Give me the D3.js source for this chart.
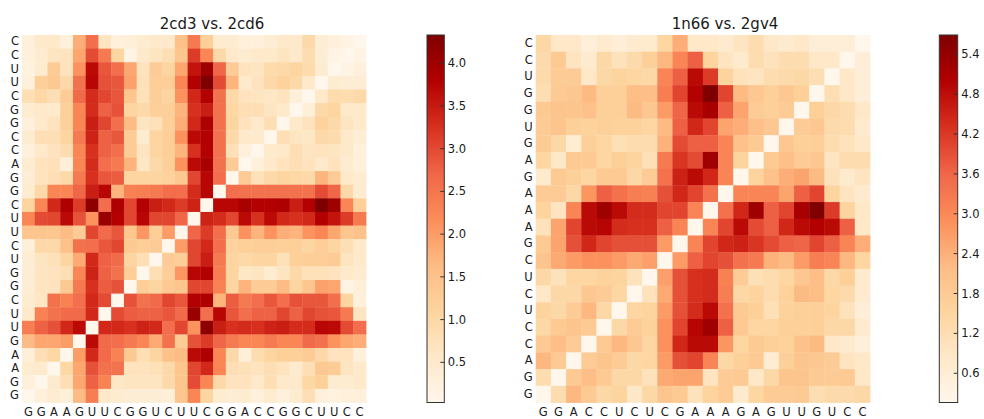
<!DOCTYPE html>
<html><head><meta charset="utf-8">
<script src="https://cdn.jsdelivr.net/npm/d3@7"></script>
<style>
html,body{margin:0;padding:0;background:#fff;}
svg{display:block;font-family:"DejaVu Sans",sans-serif;}
</style></head>
<body>
<svg id="chart" width="984" height="419"></svg>
<script>
// ---------- DATA ----------
const title1 = "2cd3 vs. 2cd6";
const xLabels1 = "GGAAGUUCGGUCUUCGGACCGGCUUCC".split("");
const yLabels1 = "CCUUCGGCCAGGCUUCUGGCUUGAAGG".split("");   // top -> bottom
// upper-left triangle by displayed row (top -> bottom); row r holds columns 0..(n-1-r), last = diagonal
const tri1 = [
[0.27,0.54,0.54,0.27,1.79,2.6,0.65,0.27,0.32,0.43,0.54,0.54,1.51,2.43,1.19,0.43,0.43,0.27,0.27,0.38,0.54,0.54,0.97,0.38,0.27,0.16,0.03],
[0.27,0.43,0.65,0.7,1.89,2.98,2.43,1.08,0.16,0.54,0.65,0.81,1.41,3.14,2.27,0.97,0.54,0.43,0.54,0.54,0.65,0.54,0.87,0.38,0.16,0.03],
[0.22,0.43,1.3,0.7,2.11,3.68,2.87,2.6,1.89,0.7,1.3,1.08,1.89,3.57,4.0,2.7,1.3,0.7,0.65,0.92,0.97,1.08,0.92,0.43,0.03],
[0.27,1.19,1.35,0.97,2.54,3.73,2.92,2.87,1.95,0.76,1.24,1.24,2.27,3.79,4.33,2.98,1.73,0.54,0.7,0.97,1.14,0.97,0.54,0.03],
[0.81,1.03,0.81,1.3,2.65,3.3,3.03,2.87,1.41,0.76,1.24,1.08,2.11,3.35,3.79,2.54,0.97,0.7,0.65,0.6,0.7,0.32,0.03],
[0.43,0.54,0.49,1.19,2.27,3.3,2.76,2.92,1.08,0.97,1.19,1.19,1.73,3.25,3.46,2.54,1.03,0.81,0.81,0.65,0.54,0.03],
[0.27,0.54,0.7,1.19,2.27,3.46,3.03,2.6,1.62,0.65,0.76,1.19,1.79,3.35,3.84,2.54,1.08,0.7,0.54,0.81,0.03],
[0.43,0.81,0.81,1.08,2.43,3.41,2.76,2.87,1.3,0.43,1.08,1.24,2.11,3.68,3.79,2.54,0.97,0.54,0.49,0.03],
[0.27,0.54,0.7,0.87,2.27,3.25,2.76,2.6,1.3,0.65,1.08,1.24,1.73,3.25,3.79,2.54,0.76,0.27,0.03],
[0.43,0.7,0.76,0.32,2.27,3.3,2.6,2.43,1.73,0.6,0.97,1.19,2.11,3.68,3.9,2.54,1.3,0.03],
[0.38,0.7,0.81,0.97,2.43,3.25,2.87,2.81,1.08,1.08,1.08,1.14,1.35,3.03,3.73,2.6,0.03],
[0.43,0.97,2.27,2.27,2.7,3.46,3.73,1.73,2.33,2.38,2.43,2.6,2.6,3.3,3.73,0.03],
[1.08,2.27,3.35,3.84,3.14,4.17,2.6,3.84,3.03,3.79,3.46,3.35,3.14,3.41,0.03],
[2.27,2.98,3.03,3.68,2.92,2.11,4.06,3.79,3.03,3.73,3.03,3.03,2.7,0.03],
[1.41,1.41,1.41,1.62,1.3,3.03,2.65,2.87,1.41,2.06,1.24,2.0,0.03],
[0.32,0.97,0.97,1.51,2.54,2.6,2.87,3.03,1.35,1.24,1.3,0.03],
[0.38,0.65,0.76,1.08,1.84,3.35,2.76,2.65,1.08,0.81,0.03],
[0.38,0.65,0.7,0.81,2.27,3.41,2.76,2.54,1.24,0.03],
[0.38,0.65,0.7,1.35,2.43,3.25,2.81,2.92,0.03],
[0.43,0.6,2.54,2.33,2.6,3.35,2.98,0.03],
[0.54,2.33,2.54,2.65,2.65,3.35,0.03],
[2.38,2.76,2.92,3.35,3.68,0.03],
[1.62,1.89,1.89,2.0,0.03],
[0.32,0.81,1.03,0.03],
[0.43,0.49,0.03],
[0.27,0.03],
[0.03]
];
const range1 = [0.03, 4.33];
const ticks1 = [0.5,1.0,1.5,2.0,2.5,3.0,3.5,4.0];

const title2 = "1n66 vs. 2gv4";
const xLabels2 = "GGACCUCUCGAAAGAGUUGUCC".split("");
const yLabels2 = "CCUGGUGAGAAAGCUCUCCAGG".split("");   // top -> bottom
const tri2 = [
[1.40,0.85,0.85,0.51,0.71,0.57,0.71,0.78,1.47,2.44,0.85,0.85,0.71,0.99,1.27,0.85,0.71,0.85,0.57,0.57,0.57,0.16],
[1.33,1.82,0.99,0.71,1.40,1.06,1.33,1.68,2.30,3.06,3.68,1.54,0.99,0.78,1.27,1.06,1.27,1.27,0.85,0.85,0.16],
[1.33,1.75,1.75,0.85,1.40,1.54,1.47,1.40,3.06,3.68,4.86,4.17,1.54,1.06,0.99,1.27,1.33,1.40,1.20,0.16],
[1.20,1.82,1.89,2.23,1.68,1.68,2.16,2.16,3.20,4.03,5.0,5.69,4.03,2.23,1.89,1.68,1.89,1.68,0.16],
[1.82,1.96,1.96,2.03,1.68,1.68,2.23,1.89,2.72,3.62,4.86,5.14,3.68,2.58,1.75,1.68,1.75,0.16],
[1.75,1.96,1.68,1.61,1.68,1.61,1.61,1.47,2.23,3.68,4.44,4.03,2.58,2.44,2.10,1.89,0.16],
[1.75,1.40,0.64,1.68,1.47,1.13,1.27,1.27,2.37,3.96,3.68,3.68,3.06,2.03,1.82,0.16],
[1.47,0.85,1.82,1.82,1.47,1.68,1.54,1.13,3.27,4.24,3.96,5.27,3.06,1.54,0.16],
[0.78,1.82,1.68,1.47,1.82,1.82,1.40,1.75,3.41,4.51,4.86,4.44,3.06,0.16],
[1.75,1.75,1.40,2.79,3.68,3.41,3.20,3.13,3.89,4.44,4.03,3.41,0.16],
[1.54,0.99,3.06,4.86,5.27,4.86,4.38,4.38,4.03,4.03,3.06,0.16],
[1.06,2.58,4.03,4.86,4.93,4.38,4.31,4.31,3.68,3.06,0.16],
[1.82,2.58,3.89,4.44,4.03,3.89,3.89,3.89,2.72,0.16],
[1.96,2.51,2.72,2.86,2.86,2.72,2.51,2.65,0.16],
[1.40,1.06,1.47,1.47,1.61,1.54,1.06,0.16],
[0.85,1.40,1.40,1.89,1.75,1.47,0.16],
[1.54,1.40,1.75,2.30,1.40,0.16],
[1.40,1.82,1.96,1.82,0.16],
[1.82,2.16,1.75,0.16],
[2.30,1.82,0.16],
[1.27,0.16],
[0.16]
];
const range2 = [0.16, 5.69];
const ticks2 = [0.6,1.2,1.8,2.4,3.0,3.6,4.2,4.8,5.4];

// ---------- DRAW ----------
const OrRd = ["#fff7ec","#fee8c8","#fdd49e","#fdbb84","#fc8d59","#ef6548","#d7301f","#b30000","#7f0000"];
const svg = d3.select("#chart");

function full(tri, n) {
  const cells = [];
  for (let r = 0; r < n; r++) for (let c = 0; c < n; c++) {
    const v = (r + c <= n - 1) ? tri[r][c] : tri[n - 1 - c][n - 1 - r];
    cells.push({r, c, v});
  }
  return cells;
}

function panel(o) {
  const n = o.xLabels.length;
  const color = d3.scaleLinear()
    .domain(OrRd.map((_, i) => o.range[0] + (o.range[1] - o.range[0]) * i / (OrRd.length - 1)))
    .range(OrRd).interpolate(d3.interpolateRgb).clamp(true);
  const x = d3.scaleBand().domain(d3.range(n)).range([o.x0, o.x1]);
  const y = d3.scaleBand().domain(d3.range(n)).range([o.y0, o.y1]);
  const g = svg.append("g");
  g.selectAll("rect.cell").data(full(o.tri, n)).join("rect")
    .attr("class", "cell")
    .attr("x", d => x(d.c)).attr("y", d => y(d.r))
    .attr("width", x.bandwidth() + 0.4).attr("height", y.bandwidth() + 0.4)
    .attr("fill", d => color(d.v));

  const ax = g.append("g").attr("transform", `translate(0,${o.y1})`)
    .call(d3.axisBottom(x).tickSize(0).tickPadding(5).tickFormat(i => o.xLabels[i]));
  const ay = g.append("g").attr("transform", `translate(${o.x0},0)`)
    .call(d3.axisLeft(y).tickSize(0).tickPadding(3).tickFormat(i => o.yLabels[i]));
  [ax, ay].forEach(a => {
    a.select(".domain").remove();
    a.selectAll("text").attr("font-size", 11.5).attr("fill", "#1a1a1a")
      .attr("font-family", "DejaVu Sans");
  });

  g.append("text").attr("x", o.titleX).attr("y", 29).attr("text-anchor", "middle")
    .attr("font-size", 15).attr("fill", "#1a1a1a").text(o.title);

  // colorbar
  const cb = d3.scaleLinear().domain(o.range).range([o.y1, o.y0]);
  const gid = "grad" + o.id;
  const grad = svg.append("defs").append("linearGradient").attr("id", gid)
    .attr("x1", 0).attr("y1", 1).attr("x2", 0).attr("y2", 0);
  OrRd.forEach((col, i) => grad.append("stop").attr("offset", i / (OrRd.length - 1)).attr("stop-color", col));
  g.append("rect").attr("x", o.cb0).attr("y", o.y0).attr("width", o.cb1 - o.cb0).attr("height", o.y1 - o.y0)
    .attr("fill", `url(#${gid})`).attr("stroke", "#333").attr("stroke-width", 1);
  const t = g.append("g").selectAll("g").data(o.ticks).join("g")
    .attr("transform", d => `translate(0,${cb(d)})`);
  t.append("line").attr("x1", o.cb1 - 4).attr("x2", o.cb1).attr("stroke", "#333");
  t.append("text").attr("x", o.cb1 + 3.5).attr("dy", "0.35em").attr("font-size", 11.5)
    .attr("fill", "#1a1a1a").text(d => d.toFixed(1));
}

panel({id: 1, title: title1, xLabels: xLabels1, yLabels: yLabels1, tri: tri1, range: range1, ticks: ticks1,
  x0: 22, x1: 366, y0: 35, y1: 402.5, titleX: 212, cb0: 427, cb1: 444.3});
panel({id: 2, title: title2, xLabels: xLabels2, yLabels: yLabels2, tri: tri2, range: range2, ticks: ticks2,
  x0: 535.7, x1: 870, y0: 35, y1: 402.5, titleX: 725, cb0: 939.3, cb1: 957.7});
</script>
</body></html>
